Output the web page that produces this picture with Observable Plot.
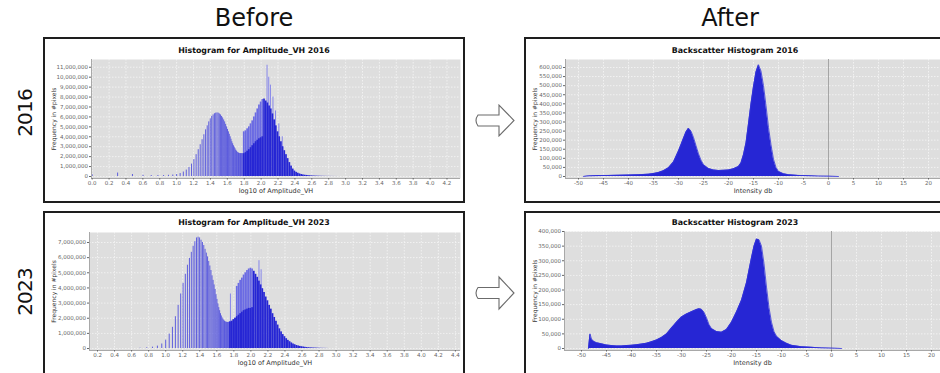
<!DOCTYPE html>
<html>
<head>
<meta charset="utf-8">
<script src="https://cdn.jsdelivr.net/npm/d3@7"></script>
<script src="https://cdn.jsdelivr.net/npm/@observablehq/plot@0.6"></script>
<style>
  html, body { margin: 0; padding: 0; background: #fff; }
  #wrap { position: relative; width: 940px; height: 373px; overflow: hidden; background: #fff; font-family: "DejaVu Sans", sans-serif; }
  .panel { position: absolute; box-sizing: border-box; border: 2px solid #1e1e1e; background: #fff; }
  .ptitle { position: absolute; transform: translate(-50%, -50%); font-weight: bold; font-size: 7.9px; color: #111; white-space: nowrap; }
  .head { position: absolute; transform: translate(-50%, -50%); font-size: 24px; color: #111; white-space: nowrap; }
  .year { position: absolute; transform: translate(-50%, -50%) rotate(-90deg); font-size: 20px; letter-spacing: -0.8px; color: #111; white-space: nowrap; }
  #wrap > svg { position: absolute; left: 0; top: 0; }
</style>
</head>
<body>
<div id="wrap">
  <div class="panel" style="left:43px;top:37px;width:422px;height:166px"></div>
  <div class="panel" style="left:43px;top:211px;width:422px;height:175px"></div>
  <div class="panel" style="left:524px;top:37px;width:440px;height:166px"></div>
  <div class="panel" style="left:524px;top:211px;width:440px;height:175px"></div>
  <div class="head" style="left:254px;top:18px">Before</div>
  <div class="head" style="left:730px;top:18px">After</div>
  <div class="year" style="left:25px;top:113px">2016</div>
  <div class="year" style="left:25px;top:292px">2023</div>
  <div class="ptitle" id="t1" style="left:254px;top:50px"></div>
  <div class="ptitle" id="t2" style="left:735px;top:50px"></div>
  <div class="ptitle" id="t3" style="left:254px;top:221.5px"></div>
  <div class="ptitle" id="t4" style="left:735px;top:221.5px"></div>
  <svg width="940" height="373">
    <path d="M478,115 L499,115 L499,105 L514,120.5 L499,136 L499,126 L478,126 Q474,120.5 478,115 Z" fill="#fff" stroke="#6b6b6b" stroke-width="1.1"/>
    <path d="M478,287.5 L499,287.5 L499,277 L514,293 L499,309 L499,298.5 L478,298.5 Q474,293 478,287.5 Z" fill="#fff" stroke="#6b6b6b" stroke-width="1.1"/>
  </svg>
</div>
<script>
// ---------------- DATA ----------------
const panelTitles = ["Histogram for Amplitude_VH 2016", "Backscatter Histogram 2016", "Histogram for Amplitude_VH 2023", "Backscatter Histogram 2023"];
const ampLabel = "log10 of Amplitude_VH";
const dbLabel = "Intensity db";
const freqLabel = "Frequency in #pixels";

// Amplitude integers (each gets its own histogram bar at log10(n))
const ampN = [1,2,3,4,5,6,7,8,9,10,11,12,13,14,15,16,17,18,19,20,21,22,23,24,25,26,27,28,29,30,
              31,32,33,34,35,36,37,38,39,40,41,42,43,44,45,46,47,48,49,50,51,52,53,54,55,56,57,58,59,60];
// counts in millions of pixels
const low2016 = [0.17,0.35,0.2,0.12,0.1,0.1,0.1,0.12,0.15,0.2,0.3,0.45,0.65,0.9,1.25,1.7,2.2,2.7,3.2,3.7,
                 4.2,4.7,5.1,5.5,5.8,6.05,6.2,6.32,6.38,6.4,6.38,6.3,6.2,6.05,5.9,5.7,5.5,5.25,5.0,4.75,
                 4.5,4.25,4.0,3.75,3.5,3.3,3.1,2.95,2.8,2.65,2.55,2.45,2.4,2.35,2.32,2.3,2.3,2.3,2.3,2.3];
const low2023 = [0,0,0,0,0.02,0.05,0.09,0.16,0.3,0.55,0.95,1.4,2.1,2.85,3.6,4.3,4.9,5.5,5.95,6.35,
                 6.75,7.05,7.3,7.35,7.3,7.15,7.0,6.8,6.55,6.3,6.05,5.75,5.45,5.15,4.8,4.5,4.2,3.9,3.55,3.25,
                 2.95,2.7,2.5,2.3,2.15,2.02,1.93,1.86,1.8,1.76,1.74,1.73,1.72,1.72,1.73,1.74,1.75,0,0,0];

// dense part of the amplitude histograms (log10 bin centres, width 0.02)
const dense2016X = [1.80,1.82,1.84,1.86,1.88,1.90,1.92,1.94,1.96,1.98,2.00,2.02,2.04,2.06,2.08,2.10,2.12,2.14,2.16,2.18,
                    2.20,2.22,2.24,2.26,2.28,2.30,2.32,2.34,2.36,2.38,2.40,2.42,2.44,2.46,2.48,2.50,2.52,2.54,2.56,2.58,
                    2.60,2.62,2.64,2.66,2.68,2.70,2.72,2.74,2.76,2.78,2.80,2.82,2.84,2.86,2.88,2.90];
const outer2016 = [4.5,4.6,4.8,5.0,5.3,5.6,6.0,6.4,6.8,7.2,7.5,7.75,7.8,7.6,7.4,7.1,6.8,6.3,5.7,5.1,
                   4.5,4.0,3.5,3.0,2.6,2.2,1.8,1.4,1.05,0.75,0.55,0.42,0.33,0.26,0.2,0.16,0.13,0.11,0.09,0.075,
                   0.062,0.052,0.044,0.037,0.031,0.026,0.022,0.018,0.015,0.012,0.01,0.008,0.006,0.005,0.004,0.003];
const inner2016 = [2.3,2.4,2.55,2.7,2.9,3.1,3.3,3.5,3.65,3.8,3.9,4.0];
const spike2016X = [2.07,2.09,2.11,2.14,2.17,2.21,2.25];
const spike2016Y = [11.2,10.0,9.2,8.0,6.6,5.3,4.0];

const dense2023X = [1.76,1.78,1.80,1.82,1.84,1.86,1.88,1.90,1.92,1.94,1.96,1.98,2.00,2.02,2.04,2.06,2.08,2.10,2.12,2.14,
                    2.16,2.18,2.20,2.22,2.24,2.26,2.28,2.30,2.32,2.34,2.36,2.38,2.40,2.42,2.44,2.46,2.48,2.50,2.52,2.54,
                    2.56,2.58,2.60,2.62,2.64,2.66,2.68,2.70,2.72,2.74,2.76,2.78,2.80,2.82,2.84,2.86,2.88,2.90];
const outer2023 = [1.75,1.8,1.9,2.0,4.1,4.3,4.5,4.65,4.85,5.0,5.15,5.25,5.3,5.25,5.1,4.9,4.7,4.45,4.2,3.95,
                   3.7,3.4,3.15,2.85,2.6,2.3,2.05,1.8,1.55,1.3,1.1,0.92,0.78,0.65,0.54,0.45,0.37,0.3,0.25,0.2,
                   0.17,0.14,0.12,0.1,0.08,0.065,0.055,0.045,0.04,0.035,0.03,0.025,0.02,0.015,0.012,0.01,0.008,0.005];
const inner2023 = [1.75,1.8,1.9,2.0,2.1,2.2,2.3,2.4,2.5,2.55,2.6,2.65,2.65,2.7];
const spike2023X = [1.76,2.095,2.12];
const spike2023Y = [3.6,5.8,5.2];

// backscatter histograms (dB, thousands of pixels)
const db2016 = [-49,-48,-46,-44,-42,-40,-38,-36,-35,-34,-33,-32,-31,-30,-29.5,-29,-28.5,-28,-27.5,-27,
                -26.5,-26,-25.5,-25,-24,-23,-22,-21,-20,-19,-18,-17.5,-17,-16.5,-16,-15.5,-15,-14.5,-14,-13.5,
                -13,-12.5,-12,-11.5,-11,-10.5,-10,-9,-8,-6,-4,-2,0,2];
const cnt2016 = [0,3,5,6,7,8,10,13,16,22,32,48,80,140,175,210,245,266,250,215,
                 170,125,90,65,44,36,33,34,36,42,55,75,120,185,290,400,495,575,615,580,
                 500,390,270,175,95,50,28,15,10,6,4,2,1,0];
const db2023 = [-48.6,-48.3,-48,-47.5,-47,-46,-45,-44,-43,-42,-41,-40,-39,-38,-37,-36,-35,-34,-33,-32,
                -31,-30,-29,-28,-27,-26.5,-26,-25.5,-25,-24.5,-24,-23,-22,-21,-20,-19,-18,-17,-16,-15.5,
                -15,-14.5,-14,-13.5,-13,-12.5,-12,-11.5,-11,-10,-9,-8,-6,-4,-2,0,2];
const cnt2023 = [0,50,32,24,20,16,12,10,9,9,10,11,13,15,18,23,29,38,50,70,
                 90,108,118,126,133,136,134,124,105,82,68,58,56,65,90,125,165,225,310,350,
                 374,372,350,290,210,140,90,58,42,27,18,11,6,4,2,1,0];

// tick values
const ampTicks2016 = [0.0,0.2,0.4,0.6,0.8,1.0,1.2,1.4,1.6,1.8,2.0,2.2,2.4,2.6,2.8,3.0,3.2,3.4,3.6,3.8,4.0,4.2];
const ampTicks2023 = [0.2,0.4,0.6,0.8,1.0,1.2,1.4,1.6,1.8,2.0,2.2,2.4,2.6,2.8,3.0,3.2,3.4,3.6,3.8,4.0,4.2,4.4];
const freqTicks2016 = [0,1,2,3,4,5,6,7,8,9,10,11];          // millions
const freqTicks2023 = [0,1,2,3,4,5,6,7];                    // millions
const dbTicks = [-50,-45,-40,-35,-30,-25,-20,-15,-10,-5,0,5,10,15,20];
const bsTicks2016 = [0,50,100,150,200,250,300,350,400,450,500,550,600];   // thousands
const bsTicks2023 = [0,50,100,150,200,250,300,350,400];                   // thousands

// ---------------- DRAWING ----------------
const DARK = "#2626d4";
const MID = "#6b6be3";
const LINE = "#5050dd";
const SPIKE = "#8787ea";
const BG = "#dedede";
const fmt = d3.format(",");
const svgStyle = "background: transparent; font-family: 'DejaVu Sans', sans-serif; font-size: 5.5px; color: #666; overflow: visible;";

document.getElementById("t1").textContent = panelTitles[0];
document.getElementById("t2").textContent = panelTitles[1];
document.getElementById("t3").textContent = panelTitles[2];
document.getElementById("t4").textContent = panelTitles[3];

function commonMarks(cfg) {
  return [
    Plot.frame({fill: BG, stroke: "none"}),
    Plot.gridX({ticks: cfg.xTicks, stroke: "#fafafa", strokeOpacity: 0.7, strokeDasharray: "1.5,1.5"}),
    Plot.gridY({ticks: cfg.yTicks, stroke: "#fafafa", strokeOpacity: 0.7, strokeDasharray: "1.5,1.5"})
  ];
}
function axisMarks(cfg) {
  return [
    Plot.ruleX([cfg.xDomain[0]], {stroke: "#a8a8a8"}),
    Plot.ruleY([cfg.yDomain[0]], {stroke: "#a8a8a8"}),
    Plot.axisX({ticks: cfg.xTicks, tickSize: 1.5, tickPadding: 1.5, tickFormat: cfg.xFormat, fontSize: 5.5, label: null, color: "#666"}),
    Plot.axisY({ticks: cfg.yTicks, tickSize: 2, tickPadding: 1.5, tickFormat: cfg.yFormat, fontSize: 5.5, label: null, color: "#666"}),
    Plot.text([cfg.xLabel], {frameAnchor: "bottom", dy: 14, fontSize: 6.5, fill: "#333", textAnchor: "middle"}),
    Plot.text([freqLabel], {frameAnchor: "left", dx: cfg.yLabelDx, rotate: -90, fontSize: 6, fill: "#333", textAnchor: "middle", lineAnchor: "middle"})
  ];
}
function frameMargins(f) {
  return {marginLeft: f.left, marginRight: 940 - f.right, marginTop: f.top, marginBottom: 373 - f.bottom};
}

function ampPanel(cfg) {
  const low = ampN.map((n, i) => ({x: Math.log10(n), c: cfg.low[i]})).filter(d => d.c > 0);
  const dense = cfg.denseX.map((x, i) => ({x, c: cfg.outer[i]}));
  const inner = cfg.inner.map((c, i) => ({x: cfg.denseX[i], c}));
  const spikes = cfg.spikeX.map((x, i) => ({x, c: cfg.spikeY[i]}));
  return Plot.plot({
    width: 940, height: 373, ...frameMargins(cfg.frame),
    style: svgStyle,
    x: {domain: cfg.xDomain}, y: {domain: cfg.yDomain},
    marks: [
      ...commonMarks(cfg),
      Plot.ruleX(spikes, {x: "x", y1: 0, y2: "c", stroke: SPIKE, strokeWidth: 1}),
      Plot.ruleX(low, {x: "x", y1: 0, y2: "c", stroke: LINE, strokeWidth: 0.9}),
      Plot.rect(dense, {x1: d => d.x - 0.01, x2: d => d.x + 0.01, y1: 0, y2: "c", fill: d => d.x < 2.03 ? MID : DARK}),
      Plot.rect(inner, {x1: d => d.x - 0.01, x2: d => d.x + 0.01, y1: 0, y2: "c", fill: DARK}),
      ...axisMarks(cfg)
    ]
  });
}

function dbPanel(cfg) {
  const data = cfg.db.map((x, i) => ({x, c: cfg.cnt[i]}));
  return Plot.plot({
    width: 940, height: 373, ...frameMargins(cfg.frame),
    style: svgStyle,
    x: {domain: cfg.xDomain}, y: {domain: cfg.yDomain},
    marks: [
      ...commonMarks(cfg),
      Plot.ruleX([0], {stroke: "#a5a5a5", strokeWidth: 1}),
      Plot.areaY(data, {x: "x", y1: 0, y2: "c", fill: DARK}),
      Plot.lineY(data, {x: "x", y: "c", stroke: "#3434da", strokeWidth: 0.8}),
      ...axisMarks(cfg)
    ]
  });
}

const wrap = document.getElementById("wrap");
wrap.appendChild(ampPanel({
  frame: {left: 91, right: 460, top: 59, bottom: 178},
  xDomain: [-0.008, 4.36], yDomain: [-0.2, 11.78],
  xTicks: ampTicks2016, yTicks: freqTicks2016,
  xFormat: d3.format(".1f"), yFormat: d => fmt(Math.round(d * 1e6)),
  xLabel: ampLabel, yLabelDx: -37,
  low: low2016, denseX: dense2016X, outer: outer2016, inner: inner2016,
  spikeX: spike2016X, spikeY: spike2016Y
}));
wrap.appendChild(ampPanel({
  frame: {left: 89, right: 460, top: 232, bottom: 350},
  xDomain: [0.106, 4.46], yDomain: [-0.13, 7.66],
  xTicks: ampTicks2023, yTicks: freqTicks2023,
  xFormat: d3.format(".1f"), yFormat: d => fmt(Math.round(d * 1e6)),
  xLabel: ampLabel, yLabelDx: -35,
  low: low2023, denseX: dense2023X, outer: outer2023, inner: inner2023,
  spikeX: spike2023X, spikeY: spike2023Y
}));
wrap.appendChild(dbPanel({
  frame: {left: 565, right: 940, top: 59, bottom: 178},
  xDomain: [-52.6, 22.4], yDomain: [-11, 644],
  xTicks: dbTicks, yTicks: bsTicks2016,
  xFormat: d => String(d), yFormat: d => fmt(d * 1000),
  xLabel: dbLabel, yLabelDx: -30,
  db: db2016, cnt: cnt2016
}));
wrap.appendChild(dbPanel({
  frame: {left: 564, right: 940, top: 231, bottom: 350},
  xDomain: [-53.4, 21.8], yDomain: [-6.8, 400],
  xTicks: dbTicks, yTicks: bsTicks2023,
  xFormat: d => String(d), yFormat: d => fmt(d * 1000),
  xLabel: dbLabel, yLabelDx: -29,
  db: db2023, cnt: cnt2023
}));
</script>
</body>
</html>
